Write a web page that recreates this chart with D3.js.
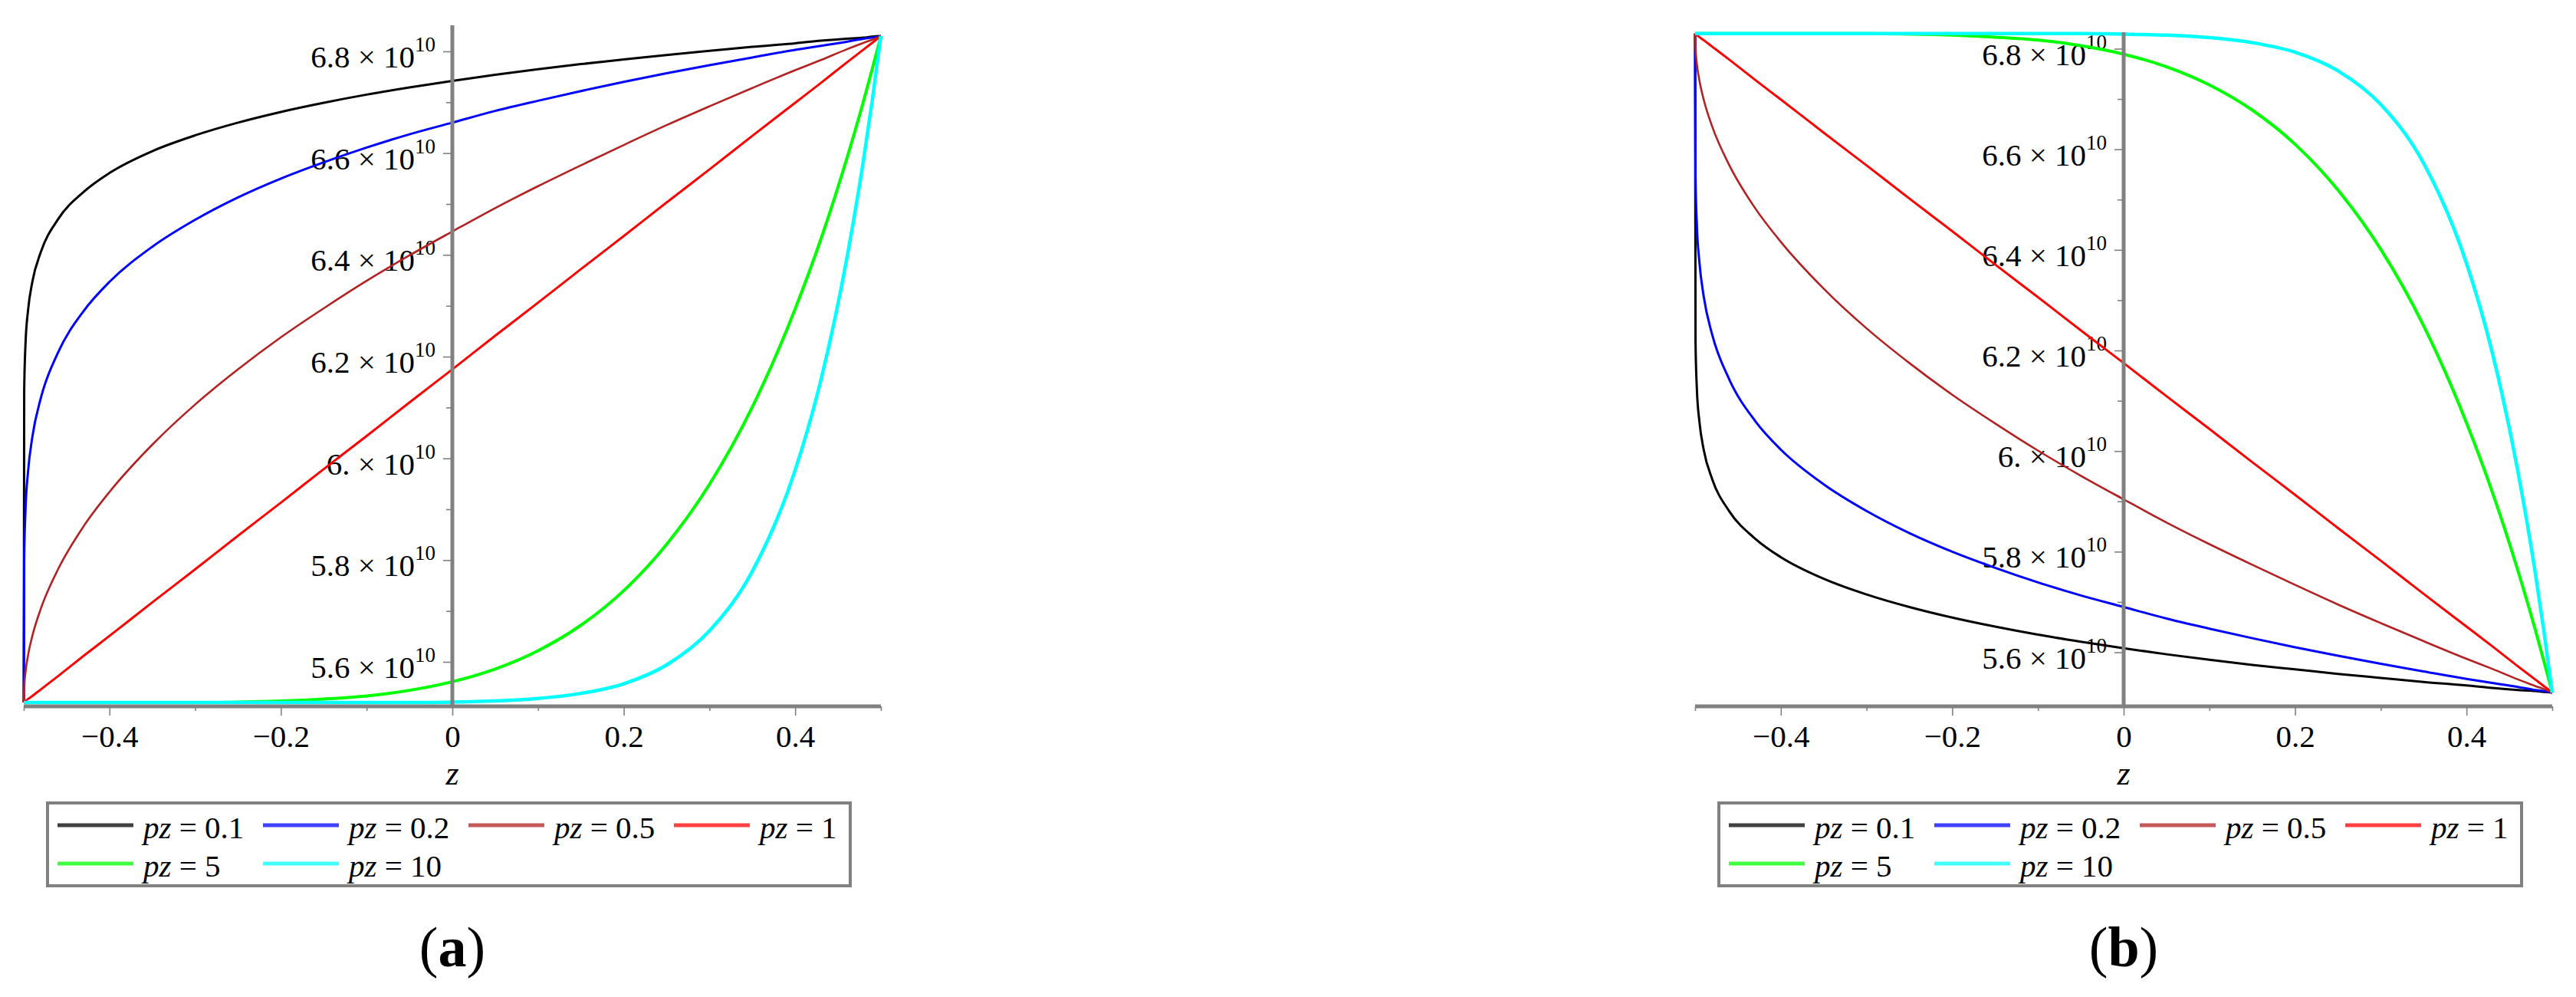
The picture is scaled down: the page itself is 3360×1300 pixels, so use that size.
<!DOCTYPE html>
<html>
<head>
<meta charset="utf-8">
<script src="https://cdn.jsdelivr.net/npm/d3@7"></script>
<style>
  body { margin: 0; background: #fff; }
  svg { display: block; }
  text { font-family: "Liberation Serif", "Times New Roman", serif; fill: #000; }
</style>
</head>
<body>
<svg id="chart" width="3360" height="1300"></svg>
<script>
// z positions where the curves were read off the picture (non-uniform: dense where curves are steep)
const zValues = [-0.5, -0.4995, -0.498, -0.495, -0.49, -0.48, -0.46, -0.43, -0.4, -0.35, -0.3, -0.25, -0.2, -0.15, -0.1, -0.05,
                 0, 0.05, 0.1, 0.15, 0.2, 0.25, 0.3, 0.35, 0.4, 0.43, 0.46, 0.48, 0.49, 0.5];

const pzLabels = ["0.1", "0.2", "0.5", "1", "5", "10"];

// panel (a), values in units of 10^10
const aPz01 = [5.520, 6.133, 6.224, 6.291, 6.347, 6.406, 6.470, 6.524, 6.561, 6.604, 6.635, 6.660, 6.681, 6.699, 6.715, 6.729,
               6.742, 6.754, 6.765, 6.775, 6.784, 6.793, 6.801, 6.809, 6.816, 6.821, 6.825, 6.827, 6.829, 6.830];
const aPz02 = [5.520, 5.806, 5.898, 5.974, 6.042, 6.119, 6.208, 6.290, 6.347, 6.416, 6.469, 6.513, 6.550, 6.582, 6.611, 6.637,
               6.660, 6.683, 6.703, 6.722, 6.740, 6.757, 6.773, 6.788, 6.803, 6.811, 6.819, 6.825, 6.827, 6.830];
const aPz05 = [5.520, 5.549, 5.579, 5.613, 5.651, 5.705, 5.782, 5.867, 5.934, 6.027, 6.106, 6.175, 6.238, 6.295, 6.349, 6.399,
               6.446, 6.492, 6.535, 6.576, 6.616, 6.655, 6.692, 6.728, 6.763, 6.783, 6.804, 6.817, 6.823, 6.830];
const aPz1  = [5.520, 5.521, 5.523, 5.527, 5.533, 5.546, 5.572, 5.612, 5.651, 5.717, 5.782, 5.848, 5.913, 5.979, 6.044, 6.110,
               6.175, 6.241, 6.306, 6.372, 6.437, 6.503, 6.568, 6.634, 6.699, 6.738, 6.778, 6.804, 6.817, 6.830];
const aPz5  = [5.520, 5.520, 5.520, 5.520, 5.520, 5.520, 5.520, 5.520, 5.520, 5.520, 5.520, 5.521, 5.523, 5.527, 5.533, 5.544,
               5.561, 5.586, 5.622, 5.672, 5.740, 5.831, 5.949, 6.101, 6.294, 6.431, 6.588, 6.704, 6.766, 6.830];
const aPz10 = [5.520, 5.520, 5.520, 5.520, 5.520, 5.520, 5.520, 5.520, 5.520, 5.520, 5.520, 5.520, 5.520, 5.520, 5.520, 5.520,
               5.521, 5.523, 5.528, 5.538, 5.557, 5.594, 5.661, 5.778, 5.977, 6.154, 6.391, 6.590, 6.705, 6.830];

// panel (b), values in units of 10^10
const bPz01 = [6.830, 6.217, 6.126, 6.059, 6.003, 5.944, 5.880, 5.826, 5.789, 5.746, 5.715, 5.690, 5.669, 5.651, 5.635, 5.621,
               5.608, 5.596, 5.585, 5.575, 5.566, 5.557, 5.549, 5.541, 5.534, 5.529, 5.525, 5.523, 5.521, 5.520];
const bPz02 = [6.830, 6.544, 6.452, 6.376, 6.308, 6.231, 6.142, 6.060, 6.003, 5.934, 5.881, 5.837, 5.800, 5.768, 5.739, 5.713,
               5.690, 5.667, 5.647, 5.628, 5.610, 5.593, 5.577, 5.562, 5.547, 5.539, 5.531, 5.525, 5.523, 5.520];
const bPz05 = [6.830, 6.801, 6.771, 6.737, 6.699, 6.645, 6.568, 6.483, 6.416, 6.323, 6.244, 6.175, 6.112, 6.055, 6.001, 5.951,
               5.904, 5.858, 5.815, 5.774, 5.734, 5.695, 5.658, 5.622, 5.587, 5.567, 5.546, 5.533, 5.527, 5.520];
const bPz1  = [6.830, 6.829, 6.827, 6.823, 6.817, 6.804, 6.778, 6.738, 6.699, 6.633, 6.568, 6.502, 6.437, 6.371, 6.306, 6.240,
               6.175, 6.109, 6.044, 5.978, 5.913, 5.847, 5.782, 5.716, 5.651, 5.612, 5.572, 5.546, 5.533, 5.520];
const bPz5  = [6.830, 6.830, 6.830, 6.830, 6.830, 6.830, 6.830, 6.830, 6.830, 6.830, 6.830, 6.829, 6.827, 6.823, 6.817, 6.806,
               6.789, 6.764, 6.728, 6.678, 6.610, 6.519, 6.401, 6.249, 6.056, 5.919, 5.762, 5.646, 5.584, 5.520];
const bPz10 = [6.830, 6.830, 6.830, 6.830, 6.830, 6.830, 6.830, 6.830, 6.830, 6.830, 6.830, 6.830, 6.830, 6.830, 6.830, 6.830,
               6.829, 6.827, 6.822, 6.812, 6.793, 6.756, 6.689, 6.572, 6.373, 6.196, 5.959, 5.760, 5.645, 5.520];

// tick values and their labels
const xMajorTicks = [-0.4, -0.2, 0, 0.2, 0.4];
const xTickLabels = ["\u22120.4", "\u22120.2", "0", "0.2", "0.4"];
const xMinorTicks = [-0.5, -0.3, -0.1, 0.1, 0.3, 0.5];
const yMajorTicks = [5.6, 5.8, 6.0, 6.2, 6.4, 6.6, 6.8];
const yTickLabels = ["5.6", "5.8", "6.", "6.2", "6.4", "6.6", "6.8"];
const yMinorTicks = [5.7, 5.9, 6.1, 6.3, 6.5, 6.7];

// styles
const lineColors = ["#000000", "#0000ff", "#b22222", "#ff0000", "#00ff00", "#00ffff"];
const lineWidths = [3, 3, 2.6, 3, 4, 4.5];
const axisGrey = "#808080";

const panels = [
  { tag: "a", dx: 0,    y68: 67,   y56: 863,   axisTop: 33, series: [aPz01, aPz02, aPz05, aPz1, aPz5, aPz10] },
  { tag: "b", dx: 2180, y68: 63.5, y56: 850.5, axisTop: 42, series: [bPz01, bPz02, bPz05, bPz1, bPz5, bPz10] }
];

const svg = d3.select("#chart");
svg.append("rect").attr("width", 3360).attr("height", 1300).attr("fill", "#fff");

function drawPanel(p) {
  const g = svg.append("g").attr("class", "panel-" + p.tag);
  const x = d3.scaleLinear().domain([-0.5, 0.5]).range([31 + p.dx, 1149 + p.dx]);
  const y = d3.scaleLinear().domain([5.6, 6.8]).range([p.y56, p.y68]);
  const axisY = 921;

  // minor ticks (no labels)
  g.append("g")
    .attr("transform", `translate(0,${axisY})`)
    .call(d3.axisBottom(x).tickValues(xMinorTicks).tickSize(6).tickFormat(""))
    .call(a => a.select(".domain").remove());
  g.append("g")
    .attr("transform", `translate(${x(0)},0)`)
    .call(d3.axisLeft(y).tickValues(yMinorTicks).tickSize(8).tickFormat(""))
    .call(a => a.select(".domain").remove());

  // major x ticks with labels
  g.append("g")
    .attr("transform", `translate(0,${axisY})`)
    .call(d3.axisBottom(x).tickValues(xMajorTicks).tickSize(12).tickPadding(12)
      .tickFormat((d, i) => xTickLabels[i]))
    .call(a => a.select(".domain").remove())
    .call(a => a.selectAll("text").style("font-size", "41px")
      .style("font-family", '"Liberation Serif", serif').attr("fill", "#000"));

  // major y ticks, labels drawn separately because of the superscript
  g.append("g")
    .attr("transform", `translate(${x(0)},0)`)
    .call(d3.axisLeft(y).tickValues(yMajorTicks).tickSize(12).tickFormat(""))
    .call(a => a.select(".domain").remove());

  g.selectAll(".tick line").attr("stroke", axisGrey).attr("stroke-width", 1.6);

  const yLab = g.append("g").selectAll("text")
    .data(yMajorTicks)
    .join("text")
    .attr("x", x(0) - 22)
    .attr("y", d => y(d) + 21)
    .attr("text-anchor", "end")
    .style("font-size", "41px");
  yLab.append("tspan").text((d, i) => yTickLabels[i] + " \u00d7 10");
  yLab.append("tspan").attr("dy", -21).style("font-size", "27px").text("10");

  // curves
  const line = d3.line()
    .x((d, i) => x(zValues[i]))
    .y(d => y(d))
    .curve(d3.curveMonotoneX);
  g.append("g").selectAll("path")
    .data(p.series)
    .join("path")
    .attr("d", d => line(d))
    .attr("fill", "none")
    .attr("stroke", (d, i) => lineColors[i])
    .attr("stroke-width", (d, i) => lineWidths[i])
    .attr("stroke-linejoin", "round");

  // axis lines
  g.append("line")
    .attr("x1", x(-0.5)).attr("x2", x(0.5))
    .attr("y1", axisY).attr("y2", axisY)
    .attr("stroke", axisGrey).attr("stroke-width", 5);
  g.append("line")
    .attr("x1", x(0)).attr("x2", x(0))
    .attr("y1", p.axisTop).attr("y2", axisY)
    .attr("stroke", axisGrey).attr("stroke-width", 5);

  // axis title
  g.append("text")
    .attr("x", x(0)).attr("y", 1023)
    .attr("text-anchor", "middle")
    .style("font-size", "44px").style("font-style", "italic")
    .text("z");

  // legend
  const lx = 62 + p.dx, ly = 1047;
  g.append("rect")
    .attr("x", lx).attr("y", ly).attr("width", 1047).attr("height", 108)
    .attr("fill", "#fff").attr("stroke", axisGrey).attr("stroke-width", 4);
  const item = g.append("g").selectAll("g")
    .data(pzLabels)
    .join("g")
    .attr("transform", (d, i) => `translate(${75 + p.dx + (i % 4) * 268},${1076 + Math.floor(i / 4) * 50})`);
  item.append("line")
    .attr("x1", 0).attr("x2", 99)
    .attr("stroke", (d, i) => lineColors[i])
    .attr("stroke-opacity", 0.75)
    .attr("stroke-width", 5);
  const lt = item.append("text")
    .attr("x", 112).attr("y", 17)
    .style("font-size", "41px");
  lt.append("tspan").style("font-style", "italic").text("pz");
  lt.append("tspan").text(d => " = " + d);

  // panel caption
  const cap = g.append("text")
    .attr("x", x(0)).attr("y", 1260)
    .attr("text-anchor", "middle")
    .style("font-size", "74px");
  cap.append("tspan").text("(");
  cap.append("tspan").style("font-weight", "bold").text(p.tag);
  cap.append("tspan").text(")");
}

panels.forEach(drawPanel);
</script>
</body>
</html>
